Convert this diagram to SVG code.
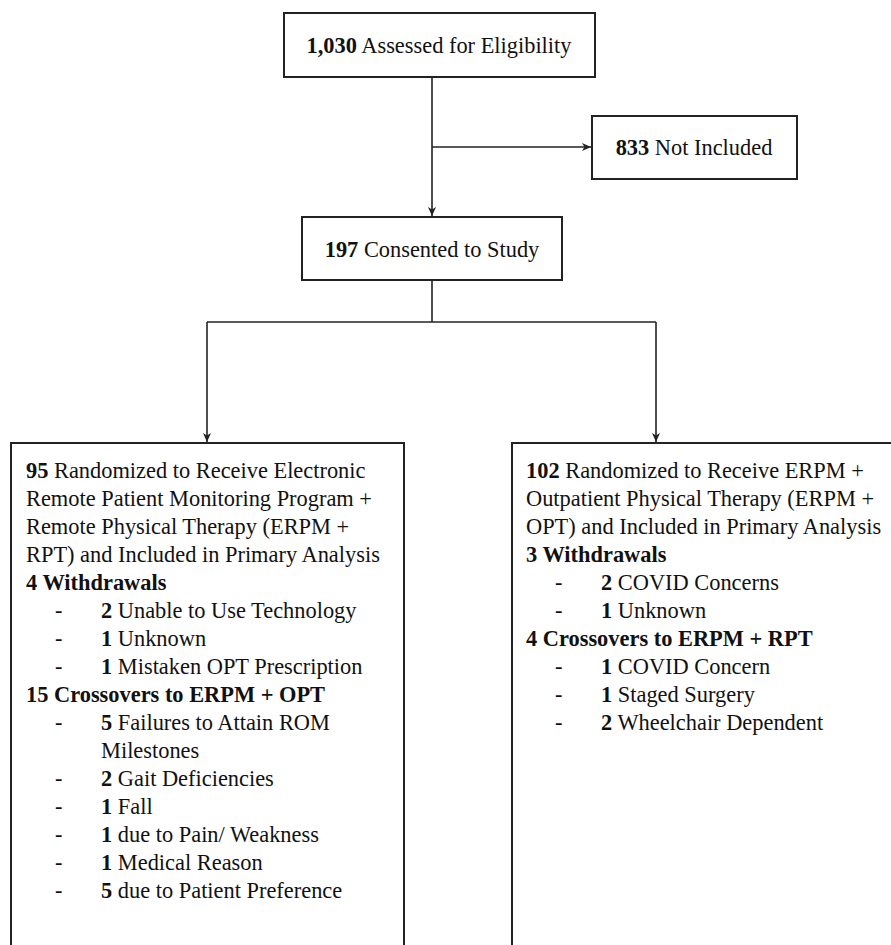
<svg xmlns="http://www.w3.org/2000/svg" width="891" height="945" viewBox="0 0 891 945">
<defs>
<marker id="ah" markerWidth="10" markerHeight="8" refX="9" refY="4" orient="auto" markerUnits="userSpaceOnUse">
<path d="M0,0 L9,4 L0,8 L2.5,4 Z" fill="#222"/>
</marker>
</defs>
<rect width="891" height="945" fill="#fff"/>
<g id="connectors" fill="none" stroke="#222" stroke-width="1.6">
<path d="M432,77 V216" marker-end="url(#ah)"/>
<path d="M432,147 H591" marker-end="url(#ah)"/>
<path d="M432,280 V322"/>
<path d="M207,322 H656"/>
<path d="M207,322 V442" marker-end="url(#ah)"/>
<path d="M656,322 V442" marker-end="url(#ah)"/>
</g>
<g font-family="Liberation Serif" font-size="22.4" fill="#111">
<g id="assessed">
<rect x="284" y="13" width="311" height="64" fill="#fff" stroke="#222" stroke-width="2"/>
<text x="439" y="53" text-anchor="middle"><tspan font-weight="bold">1,030</tspan> Assessed for Eligibility</text>
</g>
<g id="not-included">
<rect x="592" y="116" width="205" height="63" fill="#fff" stroke="#222" stroke-width="2"/>
<text x="694" y="155" text-anchor="middle"><tspan font-weight="bold">833</tspan> Not Included</text>
</g>
<g id="consented">
<rect x="302" y="217" width="260" height="63" fill="#fff" stroke="#222" stroke-width="2"/>
<text x="432" y="257" text-anchor="middle"><tspan font-weight="bold">197</tspan> Consented to Study</text>
</g>
<g id="erpm-rpt">
<rect x="11" y="443" width="393" height="520" fill="#fff" stroke="#222" stroke-width="2"/>
<text x="26" y="478"><tspan font-weight="bold">95</tspan> Randomized to Receive Electronic</text>
<text x="26" y="506">Remote Patient Monitoring Program +</text>
<text x="26" y="534">Remote Physical Therapy (ERPM +</text>
<text x="26" y="562">RPT) and Included in Primary Analysis</text>
<text x="26" y="590" font-weight="bold">4 Withdrawals</text>
<text x="55" y="618">-</text><text x="101" y="618"><tspan font-weight="bold">2</tspan> Unable to Use Technology</text>
<text x="55" y="646">-</text><text x="101" y="646"><tspan font-weight="bold">1</tspan> Unknown</text>
<text x="55" y="674">-</text><text x="101" y="674"><tspan font-weight="bold">1</tspan> Mistaken OPT Prescription</text>
<text x="26" y="702" font-weight="bold">15 Crossovers to ERPM + OPT</text>
<text x="55" y="730">-</text><text x="101" y="730"><tspan font-weight="bold">5</tspan> Failures to Attain ROM</text>
<text x="101" y="758">Milestones</text>
<text x="55" y="786">-</text><text x="101" y="786"><tspan font-weight="bold">2</tspan> Gait Deficiencies</text>
<text x="55" y="814">-</text><text x="101" y="814"><tspan font-weight="bold">1</tspan> Fall</text>
<text x="55" y="842">-</text><text x="101" y="842"><tspan font-weight="bold">1</tspan> due to Pain/ Weakness</text>
<text x="55" y="870">-</text><text x="101" y="870"><tspan font-weight="bold">1</tspan> Medical Reason</text>
<text x="55" y="898">-</text><text x="101" y="898"><tspan font-weight="bold">5</tspan> due to Patient Preference</text>
</g>
<g id="erpm-opt">
<rect x="512" y="443" width="393" height="520" fill="#fff" stroke="#222" stroke-width="2"/>
<text x="526" y="478"><tspan font-weight="bold">102</tspan> Randomized to Receive ERPM +</text>
<text x="526" y="506">Outpatient Physical Therapy (ERPM +</text>
<text x="526" y="534">OPT) and Included in Primary Analysis</text>
<text x="526" y="562" font-weight="bold">3 Withdrawals</text>
<text x="555" y="590">-</text><text x="601" y="590"><tspan font-weight="bold">2</tspan> COVID Concerns</text>
<text x="555" y="618">-</text><text x="601" y="618"><tspan font-weight="bold">1</tspan> Unknown</text>
<text x="526" y="646" font-weight="bold">4 Crossovers to ERPM + RPT</text>
<text x="555" y="674">-</text><text x="601" y="674"><tspan font-weight="bold">1</tspan> COVID Concern</text>
<text x="555" y="702">-</text><text x="601" y="702"><tspan font-weight="bold">1</tspan> Staged Surgery</text>
<text x="555" y="730">-</text><text x="601" y="730"><tspan font-weight="bold">2</tspan> Wheelchair Dependent</text>
</g>
</g>
</svg>
